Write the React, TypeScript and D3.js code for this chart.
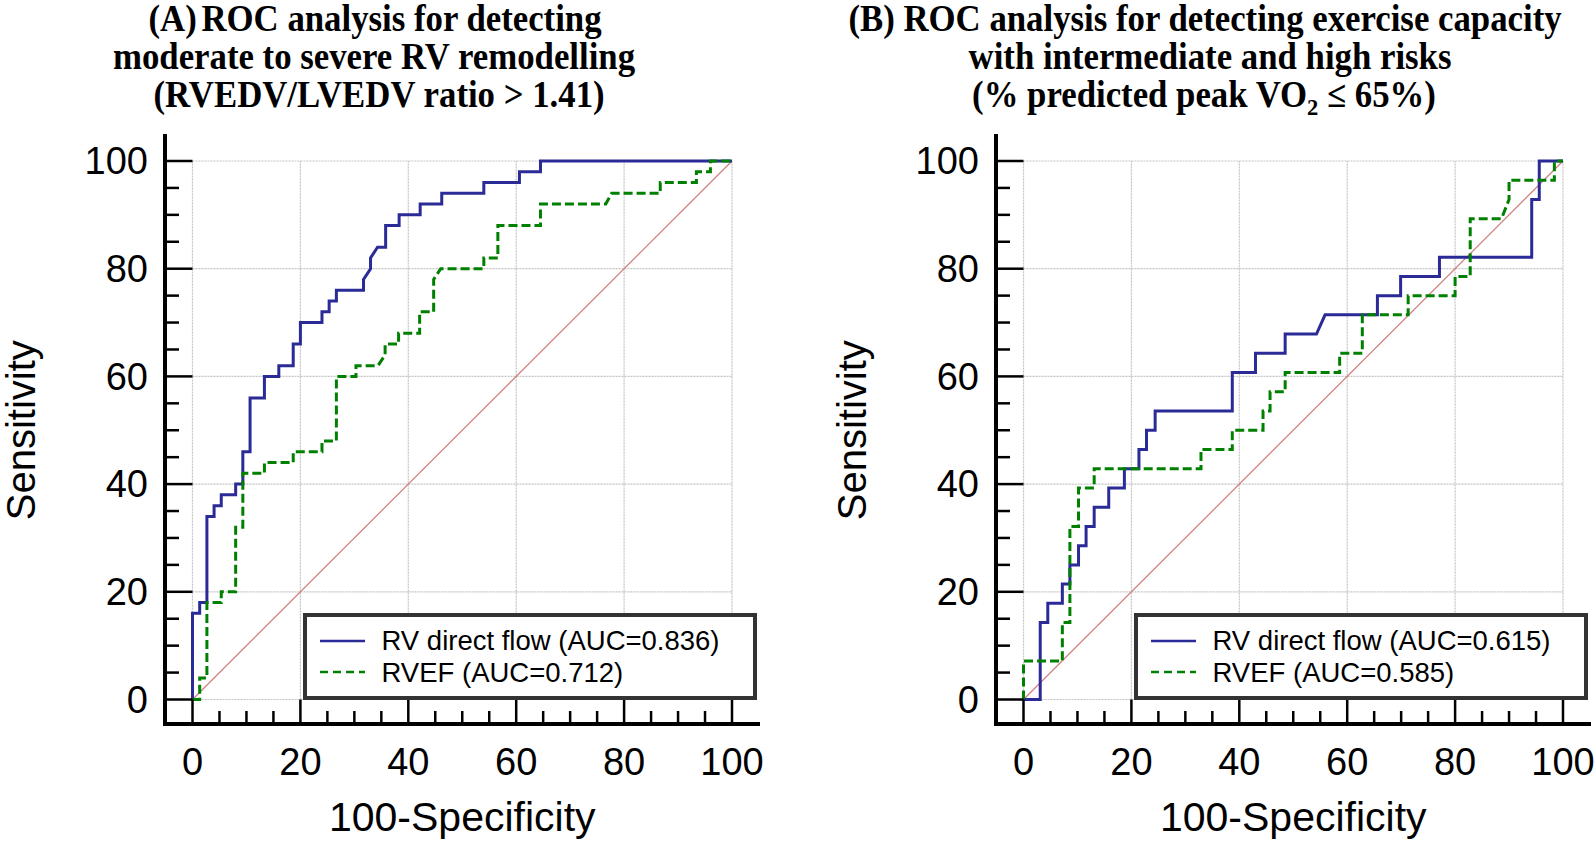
import React from 'react';
import * as d3 from 'd3';

type Pt = [number, number];

// Panel A: ROC vertices [100-Specificity, Sensitivity]
const flowA: Pt[] = [
  [0, 0], [0, 16], [1.33, 16], [1.33, 18], [2.67, 18], [2.67, 34], [4, 34], [4, 36],
  [5.33, 36], [5.33, 38], [8, 38], [8, 40], [9.33, 40], [9.33, 46], [10.67, 46], [10.67, 56],
  [13.33, 56], [13.33, 60], [16, 60], [16, 62], [18.67, 62], [18.67, 66], [20, 66], [20, 70],
  [24, 70], [24, 72], [25.33, 72], [25.33, 74], [26.67, 74], [26.67, 76], [31.7, 76], [31.7, 78],
  [33, 80], [33, 82], [34.3, 84], [35.8, 84], [35.8, 88], [38.3, 88], [38.3, 90], [42.2, 90],
  [42.2, 92], [46.2, 92], [46.2, 94], [54, 94], [54, 96], [60.6, 96], [60.6, 98], [64.5, 98],
  [64.5, 100], [100, 100],
];
const rvefA: Pt[] = [
  [0, 0], [1.33, 0], [1.33, 4], [2.67, 4], [2.67, 18], [5.33, 18], [5.33, 20], [8, 20],
  [8, 32], [9.33, 32], [9.33, 42], [13.33, 42], [13.33, 44], [18.67, 44], [18.67, 46], [24, 46],
  [24, 48], [26.67, 48], [26.67, 60], [30.3, 60], [30.3, 62], [34.4, 62], [35.7, 64], [35.7, 66],
  [38.2, 66], [38.2, 68], [42.1, 68], [42.1, 72], [44.7, 72], [44.7, 78], [46, 80], [54, 80],
  [54, 82], [56.6, 82], [56.6, 88], [64.5, 88], [64.5, 92], [76.6, 92], [77.7, 94], [86.7, 94],
  [86.7, 96], [93.4, 96], [93.4, 98], [96, 98], [96, 100], [100, 100],
];

// Panel B
const flowB: Pt[] = [
  [0, 0], [3.1, 0], [3.1, 14.29], [4.5, 14.29], [4.5, 17.86], [7.2, 17.86], [7.2, 21.43],
  [8.6, 21.43], [8.6, 25], [10.2, 25], [10.2, 28.57], [11.6, 28.57], [11.6, 32.14], [13.1, 32.14],
  [13.1, 35.71], [15.8, 35.71], [15.8, 39.29], [18.7, 39.29], [18.7, 42.86], [21.4, 42.86],
  [21.4, 46.43], [22.8, 46.43], [22.8, 50], [24.4, 50], [24.4, 53.57], [38.7, 53.57], [38.7, 60.71],
  [43, 60.71], [43, 64.29], [48.5, 64.29], [48.5, 67.86], [54.3, 67.86], [55.9, 71.43],
  [65.6, 71.43], [65.6, 75], [69.9, 75], [69.9, 78.57], [77.1, 78.57], [77.1, 82.14],
  [94.2, 82.14], [94.2, 92.86], [95.6, 92.86], [95.6, 100], [100, 100],
];
const rvefB: Pt[] = [
  [0, 0], [0, 7.14], [7.2, 7.14], [7.2, 14.29], [8.6, 14.29], [8.6, 32.14], [10.2, 32.14],
  [10.2, 39.29], [13.1, 39.29], [13.1, 42.86], [32.9, 42.86], [32.9, 46.43], [38.7, 46.43],
  [38.7, 50], [44.4, 50], [44.4, 53.57], [45.7, 53.57], [45.7, 57.14], [48.5, 57.14],
  [48.5, 60.71], [58.6, 60.71], [58.6, 64.29], [62.8, 64.29], [62.8, 71.43], [71.3, 71.43],
  [71.3, 75], [80, 75], [80, 78.57], [82.8, 78.57], [82.8, 89.29], [88.6, 89.29], [90, 92.86],
  [90, 96.43], [98.4, 96.43], [98.4, 100], [100, 100],
];

const tickValues = [0, 20, 40, 60, 80, 100];
const legendA = ['RV direct flow (AUC=0.836)', 'RVEF (AUC=0.712)'];
const legendB = ['RV direct flow (AUC=0.615)', 'RVEF (AUC=0.585)'];
const xTitle = '100-Specificity';
const yTitle = 'Sensitivity';

const BLUE = '#2b2b98';
const GREEN = '#008000';
const SANS = '"Liberation Sans", Arial, sans-serif';
const SERIF = '"Liberation Serif", "Times New Roman", serif';

function Panel({ ox, flow, rvef, legend }: { ox: number; flow: Pt[]; rvef: Pt[]; legend: string[] }) {
  const x = d3.scaleLinear().domain([0, 100]).range([ox, ox + 539.5]);
  const y = d3.scaleLinear().domain([0, 100]).range([699.5, 161]);
  const line = d3.line<Pt>().x((d) => x(d[0])).y((d) => y(d[1]));
  const axisX = ox - 27.5;
  const axisY = 724;
  const minor = d3.range(0, 100.1, 5).filter((v) => v % 20 !== 0);
  const lx = ox + 112.5;
  return (
    <g>
      {tickValues.map((t) => (
        <g key={'g' + t}>
          <line x1={x(t)} x2={x(t)} y1={y(0)} y2={y(100)} stroke="#c4c4c4" strokeWidth={1.2} strokeDasharray="2 1" />
          <line x1={x(0)} x2={x(100)} y1={y(t)} y2={y(t)} stroke="#c4c4c4" strokeWidth={1.2} strokeDasharray="2 1" />
        </g>
      ))}
      <line x1={x(0)} y1={y(0)} x2={x(100)} y2={y(100)} stroke="#d07c7c" strokeWidth={1.2} />
      <path d={line(flow) || ''} fill="none" stroke={BLUE} strokeWidth={3} strokeLinejoin="miter" />
      <path d={line(rvef) || ''} fill="none" stroke={GREEN} strokeWidth={3} strokeDasharray="9 4" />
      <line x1={axisX} x2={axisX} y1={134} y2={726} stroke="#000" strokeWidth={4} />
      <line x1={axisX - 2} x2={ox + 567.5} y1={axisY} y2={axisY} stroke="#000" strokeWidth={4} />
      {tickValues.map((t) => (
        <g key={'t' + t}>
          <line x1={axisX} x2={ox} y1={y(t)} y2={y(t)} stroke="#000" strokeWidth={2.5} />
          <line x1={x(t)} x2={x(t)} y1={axisY} y2={y(0)} stroke="#000" strokeWidth={2.5} />
          <text x={axisX - 17} y={y(t)} dy="0.35em" textAnchor="end" fontFamily={SANS} fontSize={38} fill="#000">{t}</text>
          <text x={x(t)} y={775} textAnchor="middle" fontFamily={SANS} fontSize={38} fill="#000">{t}</text>
        </g>
      ))}
      {minor.map((t) => (
        <g key={'m' + t}>
          <line x1={axisX} x2={axisX + 14} y1={y(t)} y2={y(t)} stroke="#000" strokeWidth={2.5} />
          <line x1={x(t)} x2={x(t)} y1={axisY} y2={axisY - 13} stroke="#000" strokeWidth={2.5} />
        </g>
      ))}
      <text x={(x(0) + x(100)) / 2} y={831} textAnchor="middle" fontFamily={SANS} fontSize={41} fill="#000">{xTitle}</text>
      <text transform={`translate(${axisX - 130},${(y(0) + y(100)) / 2}) rotate(-90)`} textAnchor="middle" fontFamily={SANS} fontSize={40} fill="#000">{yTitle}</text>
      <rect x={lx} y={615} width={450} height={83} fill="#fff" stroke="#333" strokeWidth={4} />
      <line x1={ox + 127.5} x2={ox + 172.5} y1={641} y2={641} stroke={BLUE} strokeWidth={2.5} />
      <line x1={ox + 127.5} x2={ox + 172.5} y1={672} y2={672} stroke={GREEN} strokeWidth={2.5} strokeDasharray="8 5" />
      <text x={ox + 189} y={650} fontFamily={SANS} fontSize={27.5} fill="#000">{legend[0]}</text>
      <text x={ox + 189} y={682} fontFamily={SANS} fontSize={27.5} fill="#000">{legend[1]}</text>
    </g>
  );
}

function TitleLine({ cx, y, children }: { cx: number; y: number; children: React.ReactNode }) {
  return (
    <g transform={`translate(${cx},${y}) scale(0.94,1)`}>
      <text x={0} y={0} textAnchor="middle" fontFamily={SERIF} fontWeight="bold" fontSize={37} fill="#000">{children}</text>
    </g>
  );
}

export default function App() {
  return (
    <svg width={1594} height={843} style={{ position: 'absolute', left: 0, top: 0, background: '#fff' }}>
      <rect x={0} y={0} width={1594} height={843} fill="#fff" />
      <TitleLine cx={375} y={31}>
        <tspan>(A)</tspan><tspan dx={5}>ROC analysis for detecting</tspan>
      </TitleLine>
      <TitleLine cx={374} y={69}>moderate to severe RV remodelling</TitleLine>
      <TitleLine cx={379} y={107}>(RVEDV/LVEDV ratio &gt; 1.41)</TitleLine>
      <TitleLine cx={1205} y={31}>(B) ROC analysis for detecting exercise capacity</TitleLine>
      <TitleLine cx={1210} y={69}>with intermediate and high risks</TitleLine>
      <TitleLine cx={1204} y={107}>
        <tspan>(% predicted peak VO</tspan>
        <tspan fontSize={24} dy={8}>2</tspan>
        <tspan dy={-8}> ≤ 65%)</tspan>
      </TitleLine>
      <Panel ox={192.5} flow={flowA} rvef={rvefA} legend={legendA} />
      <Panel ox={1023.5} flow={flowB} rvef={rvefB} legend={legendB} />
    </svg>
  );
}
